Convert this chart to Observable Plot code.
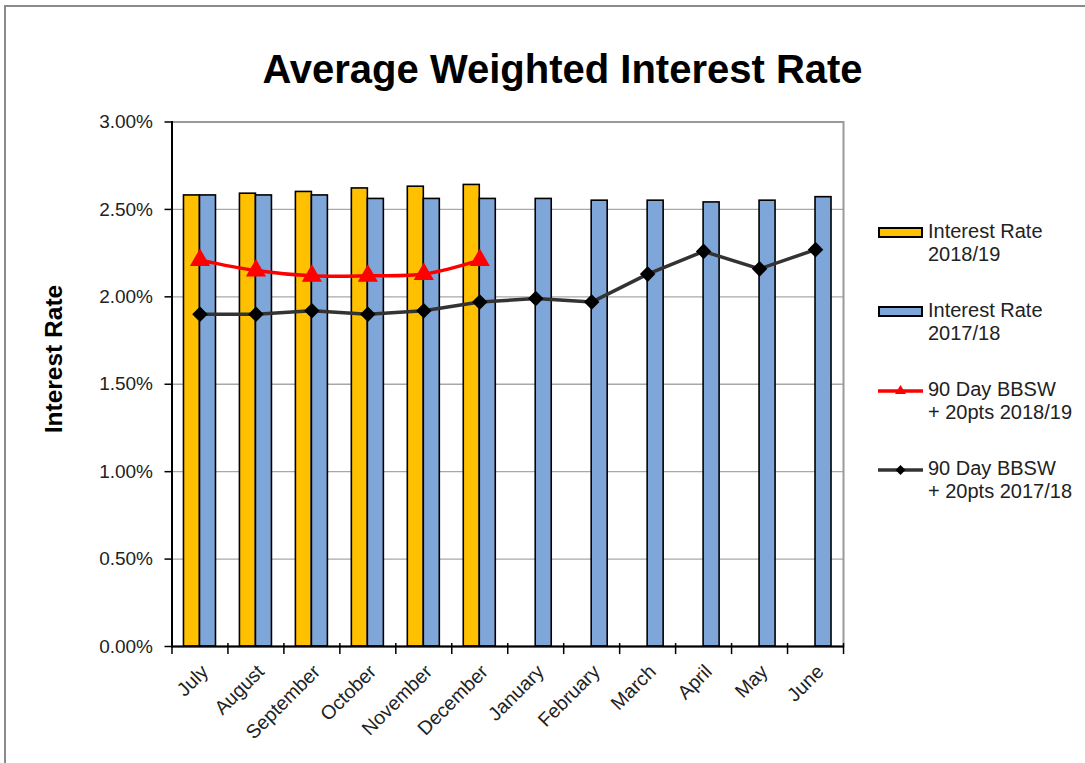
<!DOCTYPE html>
<html>
<head>
<meta charset="utf-8">
<script src="https://cdn.jsdelivr.net/npm/d3@7"></script>
<script src="https://cdn.jsdelivr.net/npm/@observablehq/plot@0.6"></script>
<style>
  html, body { margin: 0; padding: 0; background: #fff; }
  #wrap { position: relative; width: 1085px; height: 763px; overflow: hidden; font-family: "Liberation Sans", Arial, sans-serif; }
  #border { position: absolute; left: 4px; top: 5px; width: 1200px; height: 900px; border-left: 2px solid #8a8a8a; border-top: 2px solid #8a8a8a; }
  #title { position: absolute; left: 0; top: 49px; width: 1125px; text-align: center; font-weight: bold; font-size: 40px; line-height: 40px; color: #000; white-space: nowrap; }
  #ylabel { position: absolute; left: -46px; top: 347px; width: 200px; height: 24px; line-height: 24px; text-align: center; font-weight: bold; font-size: 24.5px; color: #000; transform: rotate(-90deg); white-space: nowrap; }
  .leg { position: absolute; left: 928px; font-size: 20px; line-height: 23px; color: #222; white-space: nowrap; }
  .sw { position: absolute; left: 878px; }
  #chart { position: absolute; left: 0; top: 0; }
</style>
</head>
<body>
<div id="wrap">
  <div id="border"></div>
  <div id="chart"></div>
  <div id="title">Average Weighted Interest Rate</div>
  <div id="ylabel">Interest Rate</div>
  <div id="legend"></div>
</div>
<script>
const months = ["July","August","September","October","November","December","January","February","March","April","May","June"];
const rate1819 = [2.58, 2.59, 2.60, 2.62, 2.63, 2.64];
const rate1718 = [2.58, 2.58, 2.58, 2.56, 2.56, 2.56, 2.56, 2.55, 2.55, 2.54, 2.55, 2.57];
const bbsw1819 = [2.21, 2.15, 2.12, 2.12, 2.13, 2.21];
const bbsw1718 = [1.90, 1.90, 1.92, 1.90, 1.92, 1.97, 1.99, 1.97, 2.13, 2.26, 2.16, 2.27];
const yTicks = [0, 0.5, 1, 1.5, 2, 2.5, 3];
const seriesNames = ["Interest Rate\n2018/19", "Interest Rate\n2017/18", "90 Day BBSW\n+ 20pts 2018/19", "90 Day BBSW\n+ 20pts 2017/18"];

const YELLOW = "#FFC000", BLUE = "#7EA6D8", RED = "#FF0000", DARK = "#333333";

const rows = (vals) => vals.map((v, i) => ({month: months[i], value: v}));
const r1819 = rows(rate1819), r1718 = rows(rate1718), b1819 = rows(bbsw1819), b1718 = rows(bbsw1718);

const chart = Plot.plot({
  width: 1085,
  height: 763,
  marginLeft: 171.5,
  marginRight: 242,
  marginTop: 121.5,
  marginBottom: 117,
  style: {fontFamily: "'Liberation Sans', Arial, sans-serif", background: "transparent", overflow: "visible"},
  x: {type: "band", domain: months, paddingInner: 0.714, paddingOuter: 0.357, align: 0.5, round: false, axis: null},
  y: {domain: [0, 3], axis: null},
  marks: [
    Plot.gridY(yTicks, {stroke: "#a8a8a8", strokeOpacity: 1, strokeWidth: 1.4}),
    Plot.frame({stroke: "#9a9a9a", strokeWidth: 2}),
    Plot.barY(r1819, {x: "month", y: "value", fill: YELLOW, stroke: "#000", strokeWidth: 1.6, dx: -8}),
    Plot.barY(r1718, {x: "month", y: "value", fill: BLUE, stroke: "#000", strokeWidth: 1.6, dx: 8}),
    Plot.frame({anchor: "left", stroke: "#000", strokeWidth: 2}),
    Plot.ruleY([0], {stroke: "#000", strokeWidth: 2}),
    Plot.ruleX(months, {x: d => d, dx: -28, y1: -0.046, y2: 0.017, stroke: "#000", strokeWidth: 1.5}),
    Plot.ruleX(months.slice(-1), {x: d => d, dx: 28, y1: -0.046, y2: 0.017, stroke: "#000", strokeWidth: 1.5}),
    Plot.axisY({ticks: yTicks, label: null, tickSize: 7, tickPadding: 12, tickFormat: d => d.toFixed(2) + "%", fontSize: 19, fill: "#222", stroke: "#000", strokeWidth: 1.5}),
    Plot.text(months, {x: d => d, text: d => d, frameAnchor: "bottom", rotate: -45, textAnchor: "end", lineAnchor: "middle", dx: 5, dy: 22, fontSize: 19.5, fill: "#222"}),
    Plot.line(b1819, {x: "month", y: "value", stroke: RED, strokeWidth: 3.5, curve: "catmull-rom"}),
    Plot.dot(b1819, {x: "month", y: "value", symbol: "triangle", r: 7.5, fill: RED, stroke: "none"}),
    Plot.line(b1718, {x: "month", y: "value", stroke: DARK, strokeWidth: 3.5}),
    Plot.dot(b1718, {x: "month", y: "value", symbol: "diamond2", r: 7, fill: "#000", stroke: "none"})
  ]
});
document.getElementById("chart").appendChild(chart);

// Legend
const legend = document.getElementById("legend");
const legTops = [219.5, 298.5, 377.5, 456.5];
const swatches = [
  `<svg width="46" height="14"><rect x="1" y="2" width="43" height="9" fill="${YELLOW}" stroke="#000" stroke-width="2"/></svg>`,
  `<svg width="46" height="14"><rect x="1" y="2" width="43" height="9" fill="${BLUE}" stroke="#000" stroke-width="2"/></svg>`,
  `<svg width="46" height="14"><line x1="0" x2="45" y1="7" y2="7" stroke="${RED}" stroke-width="3.5"/><path d="M22.5,1 L28,10 L17,10 Z" fill="${RED}"/></svg>`,
  `<svg width="46" height="14"><line x1="0" x2="45" y1="7" y2="7" stroke="${DARK}" stroke-width="3.5"/><path d="M22.5,2 L27.5,7 L22.5,12 L17.5,7 Z" fill="#000"/></svg>`
];
seriesNames.forEach((name, i) => {
  const sw = document.createElement("div");
  sw.className = "sw";
  sw.style.top = (legTops[i] + 6) + "px";
  sw.innerHTML = swatches[i];
  legend.appendChild(sw);
  const t = document.createElement("div");
  t.className = "leg";
  t.style.top = legTops[i] + "px";
  t.innerHTML = name.split("\n").join("<br>");
  legend.appendChild(t);
});
</script>
</body>
</html>
